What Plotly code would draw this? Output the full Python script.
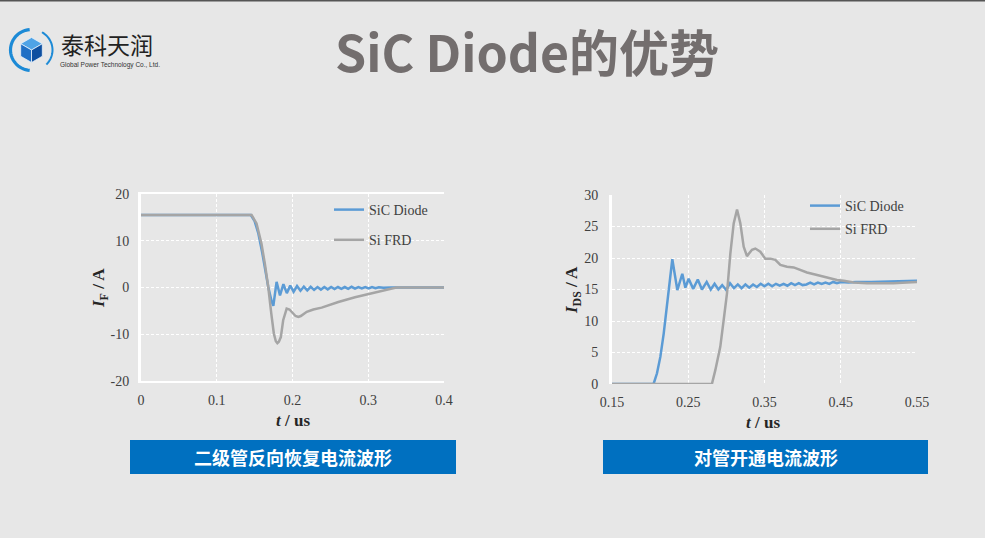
import plotly.graph_objects as go
import math

W, H = 985, 538

# ---------------- data ----------------
series_names = ["SiC Diode", "Si FRD"]
series_colors = ["#5B9BD5", "#A5A5A5"]

# Left chart: diode reverse-recovery current I_F vs t (us)
rr_t_sic = [0, 0.145, 0.150, 0.155, 0.160, 0.165, 0.168, 0.1725, 0.1747, 0.179, 0.1835,
            0.188, 0.1925, 0.197, 0.2015, 0.206, 0.2105, 0.215, 0.2195, 0.224, 0.2285,
            0.233, 0.2375, 0.242, 0.2465, 0.251, 0.2555, 0.260, 0.2645, 0.269, 0.2735,
            0.278, 0.2825, 0.287, 0.2915, 0.296, 0.3005, 0.305, 0.3095, 0.314, 0.320,
            0.330, 0.350, 0.400]
rr_i_sic = [15.5, 15.5, 14.2, 11.5, 7.5, 3.0, 0.1, -3.0, -3.9, 1.2, -1.7,
            0.7, -1.2, 0.4, -0.9, 0.3, -0.7, 0.2, -0.6, 0.15, -0.5,
            0.1, -0.45, 0.1, -0.4, 0.1, -0.35, 0.1, -0.3, 0.1, -0.3,
            0.15, -0.25, 0.1, -0.2, 0.1, -0.2, 0.1, -0.15, 0.05, -0.05,
            0.0, 0.0, 0.0]

rr_t_si = [0, 0.146, 0.1525, 0.159, 0.1635, 0.168, 0.172, 0.1754, 0.178, 0.180, 0.182,
           0.1846, 0.1877, 0.1923, 0.196, 0.200, 0.204, 0.2077, 0.211, 0.2188, 0.2275,
           0.2385, 0.2605, 0.2825, 0.3046, 0.315, 0.325, 0.337, 0.360, 0.400]
rr_i_si = [15.5, 15.5, 13.7, 9.4, 5.1, 0.1, -5.6, -9.9, -11.5, -11.9, -11.6,
           -10.6, -7.0, -4.5, -4.7, -5.4, -6.1, -6.3, -6.1, -5.2, -4.7,
           -4.3, -3.1, -2.1, -1.3, -0.8, -0.4, 0.0, 0.0, 0.0]

# Right chart: MOSFET turn-on current I_DS vs t (us)
on_t_sic = [0.150, 0.2045, 0.209, 0.2134, 0.2178, 0.222, 0.2256, 0.2291, 0.2322, 0.2357,
            0.2422, 0.2462, 0.2505, 0.2565, 0.2625, 0.268, 0.2742, 0.2795, 0.2845, 0.2895,
            0.2945, 0.2998, 0.3048, 0.310, 0.315, 0.320, 0.325, 0.330, 0.335, 0.340,
            0.345, 0.350, 0.355, 0.360, 0.365, 0.370, 0.375, 0.380, 0.385, 0.390,
            0.395, 0.400, 0.405, 0.410, 0.415, 0.420, 0.425, 0.430, 0.435, 0.440,
            0.445, 0.450, 0.460, 0.470, 0.490, 0.510, 0.530, 0.550]
on_i_sic = [0, 0, 1.7, 4.3, 8.0, 12.3, 16.5, 19.8, 17.5, 14.9,
            17.5, 15.3, 16.7, 15.1, 16.6, 15.0, 16.2, 15.0, 15.9, 15.0,
            15.7, 14.9, 16.0, 15.2, 15.8, 15.2, 15.8, 15.3, 15.8, 15.4,
            15.9, 15.5, 15.9, 15.5, 15.9, 15.6, 15.9, 15.6, 16.0, 15.7,
            16.0, 15.7, 15.8, 16.1, 15.8, 16.1, 15.9, 16.1, 15.9, 16.2,
            16.0, 16.2, 16.1, 16.2, 16.2, 16.3, 16.3, 16.4]

on_t_si = [0.150, 0.281, 0.2855, 0.292, 0.2965, 0.3008, 0.3052, 0.3096, 0.314, 0.3183,
           0.3227, 0.327, 0.3336, 0.338, 0.3445, 0.351, 0.3577, 0.3642, 0.3708, 0.3795,
           0.3883, 0.397, 0.4057, 0.419, 0.432, 0.445, 0.454, 0.467, 0.4845, 0.502,
           0.519, 0.537, 0.550]
on_i_si = [0, 0, 2.2, 5.9, 10.2, 14.4, 20.7, 25.5, 27.7, 25.5,
           21.8, 20.3, 21.3, 21.5, 21.0, 19.9, 19.9, 19.7, 18.9, 18.6,
           18.5, 18.1, 17.7, 17.3, 16.9, 16.5, 16.4, 16.1, 16.0, 15.95,
           16.0, 16.1, 16.2]

left_xticks = [0, 0.1, 0.2, 0.3, 0.4]
left_xtext = ["0", "0.1", "0.2", "0.3", "0.4"]
left_yticks = [-20, -10, 0, 10, 20]
left_ytext = ["-20", "-10", "0", "10", "20"]
right_xticks = [0.15, 0.25, 0.35, 0.45, 0.55]
right_xtext = ["0.15", "0.25", "0.35", "0.45", "0.55"]
right_yticks = [0, 5, 10, 15, 20, 25, 30]

page_title = "SiC Diode的优势"
left_caption = "二级管反向恢复电流波形"
right_caption = "对管开通电流波形"
logo_cn = "泰科天润"
logo_en = "Global Power Technology Co., Ltd."

# ---------------- helpers (pixel -> paper) ----------------
def X(px):
    return px / W


def Y(py):
    return 1 - py / H


def path_from(points, close=True):
    s = "M" + " L".join(f"{X(a):.5f},{Y(b):.5f}" for a, b in points)
    return s + (" Z" if close else "")


BG = "#E7E7E7"
SERIF = "Liberation Serif"
CJK = "Noto Sans CJK SC"

fig = go.Figure()

fig.add_trace(go.Scatter(x=rr_t_sic, y=rr_i_sic, mode="lines", name=series_names[0],
                         line=dict(color=series_colors[0], width=2.5),
                         xaxis="x", yaxis="y", legend="legend", legendgroup="a"))
fig.add_trace(go.Scatter(x=rr_t_si, y=rr_i_si, mode="lines", name=series_names[1],
                         line=dict(color=series_colors[1], width=2.5),
                         xaxis="x", yaxis="y", legend="legend", legendgroup="b"))
fig.add_trace(go.Scatter(x=on_t_sic, y=on_i_sic, mode="lines", name=series_names[0],
                         line=dict(color=series_colors[0], width=2.5),
                         xaxis="x2", yaxis="y2", legend="legend2", legendgroup="c"))
fig.add_trace(go.Scatter(x=on_t_si, y=on_i_si, mode="lines", name=series_names[1],
                         line=dict(color=series_colors[1], width=2.5),
                         xaxis="x2", yaxis="y2", legend="legend2", legendgroup="d"))

tickfont = dict(family=SERIF, size=14, color="#404040")
grid = dict(showgrid=True, gridcolor="white", gridwidth=1, griddash="3px,2px",
            zeroline=False, ticks="", layer="below traces", tickfont=tickfont,
            automargin=False)

fig.update_layout(
    width=W, height=H, autosize=False,
    margin=dict(l=0, r=0, t=0, b=0, pad=0, autoexpand=False),
    paper_bgcolor=BG, plot_bgcolor=BG,
    xaxis=dict(domain=[X(141), X(444)], range=[0, 0.4], tickvals=left_xticks,
               ticktext=left_xtext, anchor="y", showline=True, linecolor="white",
               linewidth=1.5, mirror=True, ticklabelstandoff=5, **grid),
    yaxis=dict(domain=[Y(381), Y(194)], range=[-20, 20], tickvals=left_yticks,
               ticktext=left_ytext, anchor="x", showline=True, linecolor="white",
               linewidth=3, ticklabelstandoff=6, **grid),
    xaxis2=dict(domain=[X(612), X(917)], range=[0.15, 0.55], tickvals=right_xticks,
                ticktext=right_xtext, anchor="y2", showline=False,
                ticklabelstandoff=8, **grid),
    yaxis2=dict(domain=[Y(384), Y(195)], range=[0, 30], tickvals=right_yticks,
                anchor="x2", showline=True, linecolor="white", linewidth=3,
                ticklabelstandoff=8, **grid),
    legend=dict(x=X(329), y=Y(194), xanchor="left", yanchor="top",
                bgcolor="rgba(0,0,0,0)", font=dict(family=SERIF, size=14, color="#404040"),
                traceorder="grouped", tracegroupgap=9),
    legend2=dict(x=X(805), y=Y(190), xanchor="left", yanchor="top",
                 bgcolor="rgba(0,0,0,0)", font=dict(family=SERIF, size=14, color="#404040"),
                 traceorder="grouped", tracegroupgap=2),
    showlegend=True,
)


def note(px, py, text, font, **kw):
    d = dict(x=X(px), y=Y(py), xref="paper", yref="paper", showarrow=False,
             xanchor="center", yanchor="middle", text=text, font=font)
    d.update(kw)
    return d


title_font = dict(family=SERIF, size=17, color="#262626")
annotations = [
    note(527, 50, f"<b>{page_title}</b>", dict(family=CJK, size=50, color="#736E6E")),
    note(293, 420, "<b><i>t</i> / us</b>", title_font),
    note(763, 422, "<b><i>t</i> / us</b>", title_font),
    note(100, 288, "<b><i>I</i><sub>F</sub> / A</b>", title_font, textangle=-90),
    note(573, 290, "<b><i>I</i><sub>DS</sub> / A</b>", title_font, textangle=-90),
    note(293, 457, f"<b>{left_caption}</b>", dict(family=CJK, size=18, color="white")),
    note(765.5, 457, f"<b>{right_caption}</b>", dict(family=CJK, size=18, color="white")),
    note(59, 44, logo_cn, dict(family=CJK, size=23, color="#222222"), xanchor="left"),
    note(58, 65, logo_en, dict(family="Liberation Sans", size=6.5, color="#333333"),
         xanchor="left"),
]
fig.update_layout(annotations=annotations)

shapes = []
shapes.append(dict(type="rect", xref="paper", yref="paper", x0=0, x1=1, y0=Y(1.5), y1=1,
                   line=dict(width=0), fillcolor="#555555"))
for x0, x1 in [(130, 456), (603, 928)]:
    shapes.append(dict(type="rect", xref="paper", yref="paper", x0=X(x0), x1=X(x1),
                       y0=Y(474), y1=Y(440), line=dict(width=0), fillcolor="#0070C0",
                       layer="below"))

cx, cy = 31.5, 50.0


def arc(r_x, r_y, a0, a1, n=30):
    pts = []
    for k in range(n + 1):
        a = math.radians(a0 + (a1 - a0) * k / n)
        pts.append((cx + r_x * math.cos(a), cy - r_y * math.sin(a)))
    return pts


shapes.append(dict(type="path", xref="paper", yref="paper",
                   path=path_from(arc(21, 20.5, 95, 265), close=False),
                   line=dict(color="#1C8AD6", width=3.2)))
shapes.append(dict(type="path", xref="paper", yref="paper",
                   path=path_from(arc(21, 20.5, 60, -45), close=False),
                   line=dict(color="#1C8AD6", width=2)))
s = 12.5
top = (cx, cy - s)
ur = (cx + s * 0.866, cy - s / 2)
lr = (cx + s * 0.866, cy + s / 2)
bot = (cx, cy + s)
ll = (cx - s * 0.866, cy + s / 2)
ul = (cx - s * 0.866, cy - s / 2)
ctr = (cx, cy)
for pts, col in [([top, ur, ctr, ul], "#4FA3E6"),
                 ([ul, ctr, bot, ll], "#1F6FC5"),
                 ([ctr, ur, lr, bot], "#0E4FA0")]:
    shapes.append(dict(type="path", xref="paper", yref="paper", path=path_from(pts),
                       fillcolor=col, line=dict(color="#E8F2FB", width=0.8)))
fig.update_layout(shapes=shapes)

fig.write_html("out.html", config={"displayModeBar": False},
               post_script="document.body.style.margin='0px';")
